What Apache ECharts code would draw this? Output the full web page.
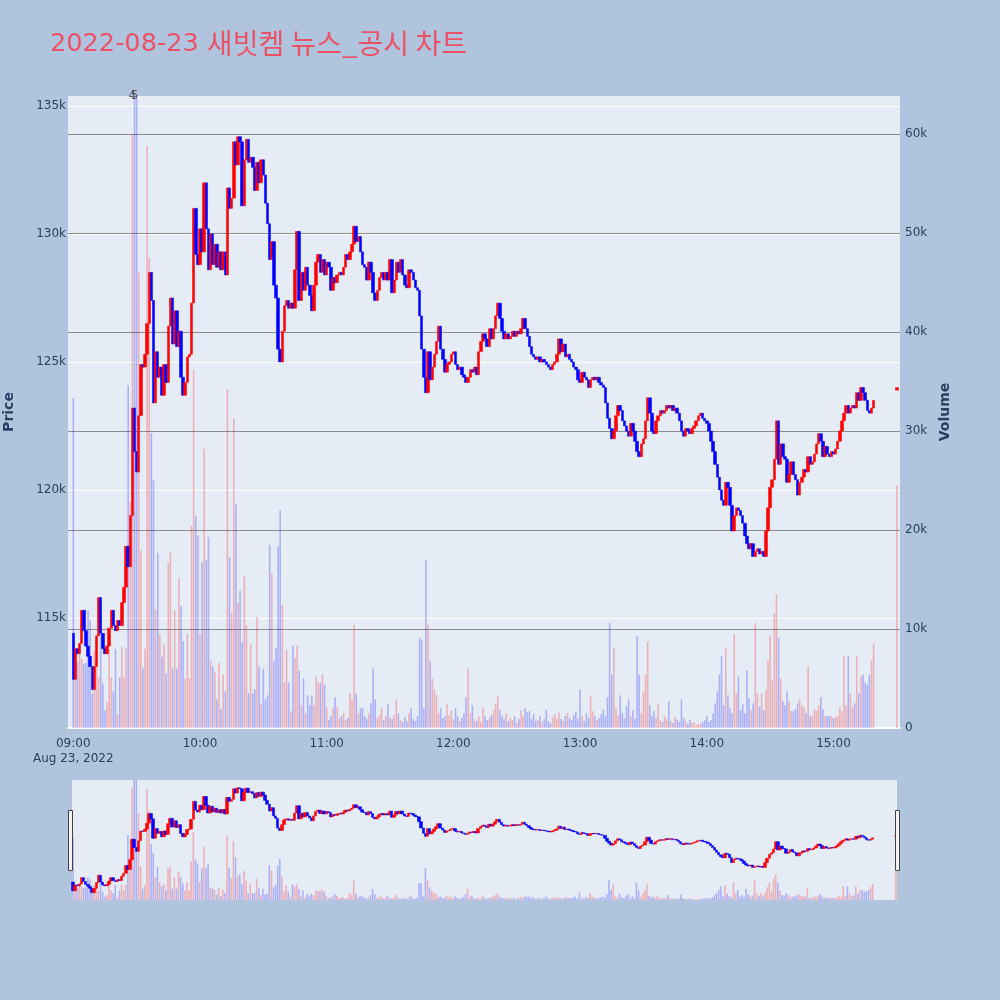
<!DOCTYPE html>
<html><head><meta charset="utf-8">
<script src="https://cdn.jsdelivr.net/npm/echarts@6/dist/echarts.min.js"></script>
<style>html,body{margin:0;padding:0;background:#b0c4de;}#c{width:1000px;height:1000px;}</style>
</head><body><div id="c"></div>
<script>
const titleDate = '2022-08-23';
const titleRest = '새빗켐 뉴스_공시 차트';
const dateLabel = 'Aug 23, 2022';
const sessionStart = '09:00';
const axisStart = '08:58';
const axisEnd = '15:31';
const firstOpen = 114400;
// 1-minute closes from 09:00 to 15:19
const closes = [
112600,113800,113600,114000,115300,114500,113900,113500,113100,112200,
113100,114300,115800,114400,113800,113600,113900,114600,115300,114700,
114500,114900,114700,115600,116200,117800,117000,119000,123200,121500,
120700,122900,124900,124800,125300,126500,128500,127400,123400,125400,
124400,124800,123700,124900,124200,126400,127500,125700,127000,125600,
126200,124400,123700,124200,125200,125300,127300,131000,129200,128800,
130200,129300,132000,130200,128600,130000,128800,129600,128700,129300,
128600,129300,128400,131800,131000,131400,133600,132700,133800,133600,
131100,132900,133700,132800,133000,132600,131700,132800,132000,132900,
132300,131200,130400,129000,129700,128000,127500,125500,125000,126200,
127200,127400,127100,127300,127100,128600,130100,127400,128500,127800,
128700,128000,127600,127000,128000,128900,129200,128500,129000,128400,
128900,128700,127800,128300,128100,128400,128500,128400,128700,129200,
129000,129300,129600,130300,129700,129900,129300,128800,128700,128200,
128900,128500,127700,127400,127800,128300,128500,128200,128500,128200,
129000,127700,128200,128900,128500,129000,128400,128000,127900,128600,
128500,128200,127900,127800,126800,125500,124400,123800,125400,124300,
124800,125300,125800,126400,125500,125100,124600,124900,125000,125300,
125400,124900,124700,124800,124500,124400,124200,124400,124700,124600,
124800,124500,125400,125800,126100,125900,125600,126300,125900,126300,
126800,127300,126700,126200,125900,126100,125900,126000,126200,126000,
126200,126100,126300,126700,126300,126000,125600,125300,125200,125100,
125200,125000,125100,125000,124900,124800,124700,124900,125000,125300,
125900,125400,125700,125200,125300,125100,125000,124800,124700,124300,
124200,124600,124400,124300,124000,124300,124400,124300,124400,124200,
124100,124000,123400,122800,122400,122000,122300,122900,123300,123100,
122700,122500,122300,122100,122600,122300,121900,121500,121300,121800,
122000,122700,123600,123000,122300,122200,122700,122900,123100,123000,
123100,123300,123200,123300,123100,123200,123000,122700,122300,122100,
122400,122300,122200,122400,122500,122700,122900,123000,122800,122700,
122600,122300,121900,121500,121000,120500,120000,119600,119400,120300,
120100,119400,118400,119000,119300,119200,119000,118700,118200,117900,
117700,117900,117400,117600,117700,117500,117600,117400,118400,119300,
120100,120400,121200,122700,121000,121800,121300,121200,120300,120600,
121100,120600,120400,119800,120300,120500,120800,120700,121300,121000,
121100,121400,121800,122200,121900,121300,121700,121400,121300,121500,
121400,121600,121900,122300,122700,123000,123300,123000,123200,123300,
123200,123800,123500,124000,123800,123500,123100,123000,123200,123500
];
// 1-minute volumes from 09:00 to 15:19
const volumes = [
33300,6800,6600,7500,7000,6500,6600,11900,10900,3500,
7800,7000,5100,11300,4500,1800,2600,8000,5100,3700,
8000,1400,5100,8200,5100,8000,34600,22800,60000,75000,
75000,46000,17900,6000,8000,58800,47500,29800,25000,12000,
17700,9500,7200,8400,5500,16700,17700,6000,11900,6000,
15200,12300,8800,5000,9500,5000,20400,36200,21400,19500,
9500,16700,28200,17000,19300,6800,6200,5600,2900,6600,
1900,5400,3700,34200,17200,11600,31300,22600,12700,13900,
8700,15400,10400,3500,8500,3500,3900,11200,6200,2500,
6000,2900,3300,18500,15600,6800,8100,18300,22000,12400,
4600,7900,4600,1700,8300,7100,8300,5800,2300,5000,
1500,3300,2300,3300,2300,5200,4600,4600,5400,4400,
2100,800,1200,2100,3100,2100,1000,1200,1500,800,
1000,3500,2900,10400,3500,1500,2000,2000,1200,900,
1500,2500,6000,2900,1000,1300,2000,800,1200,2400,
1000,900,1300,2900,1500,800,600,1100,700,1500,
2000,900,700,1200,9100,8900,2000,17000,10400,6800,
5000,3900,3300,1500,2000,1000,1200,2400,1300,1800,
900,2000,1200,700,1000,1500,3100,6000,1500,2300,
900,700,1200,600,2100,1200,800,1000,1300,1800,
2500,3300,1800,1200,900,1500,700,1000,800,1200,
500,900,1800,1200,2000,1600,1700,900,1400,700,
800,1200,600,900,1800,700,500,1100,1400,1000,
1600,900,700,1200,1500,1000,800,1300,1700,900,
3900,1200,700,1500,1000,3300,1700,1200,800,1000,
1400,1800,1200,3100,10600,5400,8100,2000,1300,3300,
1500,1000,2200,2900,1200,1800,900,9300,5400,1500,
3700,5400,8700,2300,1200,1700,1000,2400,800,600,
1200,900,2700,700,500,1100,800,600,2900,1000,
700,400,800,500,600,300,500,400,600,800,
1200,600,800,1500,2500,3700,5400,7300,2300,8100,
3300,2000,1500,9500,3500,5200,1800,2400,1500,5800,
3000,1800,2500,10600,3500,2200,3500,1800,3900,6800,
9300,4800,11600,13500,9100,5000,2700,2300,3700,2700,
1700,1700,1900,2500,2900,2300,2100,1500,6200,1200,
1200,1900,1800,2300,3100,1900,1200,1200,1200,1200,
1000,1100,1200,2100,1700,7300,2300,7300,3500,2100,
2500,7300,3500,5200,5400,4600,4400,5400,6800,8500
];
// closing auction
const auctionTime = '15:30';
const auctionOpen = 123900;
const auctionClose = 124000;
const auctionVolume = 24500;
// news / disclosure markers
const newsTimes = ['09:28', '09:29'];
const newsLabels = ['4', '5'];

const priceMin = 110700, priceMax = 135390;
const volMin = 0, volMax = 63840;
const upColor = '#ff0000', downColor = '#0000ff';
const upVol = 'rgba(255,0,0,0.25)', downVol = 'rgba(0,0,255,0.25)';
const fontFam = '"DejaVu Sans", Verdana, "Noto Sans CJK KR", sans-serif';
const krFam = '"Noto Sans CJK KR", "DejaVu Sans", sans-serif';
const tickColor = '#2a3f5f';
const titleColor = '#eb5268';

function toMin(t){const p=t.split(':').map(Number);return p[0]*60+p[1];}
function toLabel(n){return String(Math.floor(n/60)).padStart(2,'0')+':'+String(n%60).padStart(2,'0');}
const categories=[];
for(let n=toMin(axisStart); n<=toMin(axisEnd); n++) categories.push(toLabel(n));

const candleMap={}, volMap={};
let prev=firstOpen;
closes.forEach((c,i)=>{
  const t=toLabel(toMin(sessionStart)+i);
  candleMap[t]=[prev,c,Math.min(prev,c),Math.max(prev,c)];
  volMap[t]={v:volumes[i],up:c>=prev};
  prev=c;
});
candleMap[auctionTime]=[auctionOpen,auctionClose,Math.min(auctionOpen,auctionClose),Math.max(auctionOpen,auctionClose)];
volMap[auctionTime]={v:auctionVolume,up:auctionClose>=auctionOpen};

const candleData=categories.map(t=>candleMap[t]||'-');
const volData=categories.map(t=>volMap[t]?{value:volMap[t].v,itemStyle:{color:volMap[t].up?upVol:downVol}}:'-');
const newsData=newsTimes.map((t,i)=>({value:[t,volMax],label:{formatter:newsLabels[i]}}));

const chart=echarts.init(document.getElementById('c'),null,{renderer:'canvas'});
const kfmt=v=>v===0?'0':(v/1000)+'k';
chart.setOption({
  backgroundColor:'#b0c4de',
  animation:false,
  title:{text:'{a|'+titleDate+' }{b|'+titleRest+'}',left:45,top:24,
    textStyle:{fontWeight:'normal',color:titleColor,rich:{
      a:{color:titleColor,fontSize:25.6,fontWeight:'normal',fontFamily:fontFam,verticalAlign:'bottom'},
      b:{color:titleColor,fontSize:28,fontWeight:'normal',fontFamily:krFam,verticalAlign:'bottom'}
    }}},
  grid:[
    {left:68,right:100,top:96,bottom:272,show:true,backgroundColor:'#e5ecf6',borderWidth:0,outerBoundsMode:'none',containLabel:false},
    {left:72,right:103,top:780,height:120,show:true,backgroundColor:'#e5ecf6',borderWidth:0,outerBoundsMode:'none',containLabel:false}
  ],
  xAxis:[
    {type:'category',gridIndex:0,data:categories,boundaryGap:true,
     axisLine:{show:true,onZero:false,lineStyle:{color:'#ffffff',width:2}},axisTick:{show:false},
     splitLine:{show:false},
     axisLabel:{interval:(i,v)=>v.endsWith(':00'),color:tickColor,fontSize:12,fontFamily:fontFam,margin:8,lineHeight:15,
       formatter:v=>v===sessionStart?v+'\n'+dateLabel:v}},
    {type:'category',gridIndex:1,data:categories,boundaryGap:true,min:2,max:categories.length-2,
     axisLine:{show:false},axisTick:{show:false},axisLabel:{show:false},splitLine:{show:false}}
  ],
  yAxis:[
    {type:'value',gridIndex:0,min:priceMin,max:priceMax,splitNumber:5,position:'left',scale:true,
     name:'Price',nameLocation:'middle',nameGap:52,nameTextStyle:{color:tickColor,fontSize:14,fontWeight:'bold',fontFamily:fontFam},
     axisLine:{show:false},axisTick:{show:false},
     axisLabel:{color:tickColor,fontSize:12,fontFamily:fontFam,margin:2,formatter:kfmt,showMinLabel:false,showMaxLabel:false},
     splitLine:{show:true,lineStyle:{color:'#ffffff',width:1},showMinLine:false,showMaxLine:false}},
    {type:'value',gridIndex:0,min:volMin,max:volMax,splitNumber:6,position:'right',
     name:'Volume',nameLocation:'middle',nameGap:38,nameTextStyle:{color:tickColor,fontSize:14,fontWeight:'bold',fontFamily:fontFam},
     axisLine:{show:false},axisTick:{show:false},
     axisLabel:{color:tickColor,fontSize:12,fontFamily:fontFam,margin:5,formatter:kfmt,showMaxLabel:false},
     splitLine:{show:true,lineStyle:{color:'#8c8c8c',width:1},showMinLine:false,showMaxLine:false}},
    {type:'value',gridIndex:1,min:priceMin,max:priceMax,show:false,splitLine:{show:false}},
    {type:'value',gridIndex:1,min:volMin,max:volMax,show:false,splitLine:{show:false}}
  ],
  series:[
    {type:'bar',name:'vol',xAxisIndex:0,yAxisIndex:1,data:volData,barWidth:1.6,z:1,clip:true},
    {type:'candlestick',name:'price',xAxisIndex:0,yAxisIndex:0,data:candleData,barWidth:3,z:3,
     itemStyle:{color:upColor,color0:downColor,borderColor:upColor,borderColor0:downColor,borderWidth:0.5}},
    {type:'scatter',name:'news',xAxisIndex:0,yAxisIndex:1,data:newsData,symbolSize:1,clip:false,z:5,
     itemStyle:{color:'transparent'},
     label:{show:true,position:'inside',color:'#444',fontSize:12,fontFamily:fontFam}},
    {type:'bar',name:'volMini',xAxisIndex:1,yAxisIndex:3,data:volData,barWidth:1.6,z:1,clip:true},
    {type:'candlestick',name:'priceMini',xAxisIndex:1,yAxisIndex:2,data:candleData,barWidth:3,z:3,
     itemStyle:{color:upColor,color0:downColor,borderColor:upColor,borderColor0:downColor,borderWidth:0.5}}
  ],
  graphic:[
    {type:'rect',left:68,top:810,shape:{width:4,height:60},style:{fill:'#f4f4f4',stroke:'#444',lineWidth:1},z:10},
    {type:'rect',left:895,top:810,shape:{width:4,height:60},style:{fill:'#f4f4f4',stroke:'#444',lineWidth:1},z:10}
  ]
});
</script></body></html>
